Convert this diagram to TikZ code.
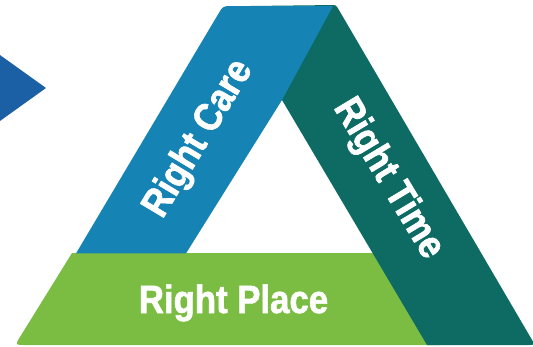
\documentclass[tikz,border=0pt]{standalone}
\usepackage{fontspec}
\newfontfamily\lblfont{Liberation Sans}[FakeStretch=0.88,FakeBold=1.6]
\usetikzlibrary{calc}
\definecolor{arrowblue}{RGB}{27,95,165}
\definecolor{careblue}{RGB}{21,132,181}
\definecolor{timeteal}{RGB}{13,107,99}
\definecolor{placegreen}{RGB}{123,189,67}
\begin{document}
\begin{tikzpicture}[x=1pt,y=-1pt,
  lbl/.style={text=white, font=\lblfont\bfseries\fontsize{39.5}{40}\selectfont, inner sep=0pt}]
\useasboundingbox (0,0) rectangle (533,346);
\clip (0,0) rectangle (533,346);
% arrow
\coordinate (a1) at (-20,40.7);
\coordinate (a2) at (46,88);
\coordinate (a3) at (-20,135.3);
\fill[arrowblue] (a1) -- (a2) -- (a3) -- cycle;
% green band
\coordinate (g1) at (72,253);
\coordinate (g2) at (15,345);
\coordinate (g3) at (440,345);
\coordinate (g4) at (400,253);
\fill[placegreen] (g1) -- ($(g2)!10pt!(g1)$) .. controls (g2) .. ($(g2)!10pt!(g3)$) -- (g3) -- (g4) -- cycle;
% teal band
\coordinate (t1) at (250,6);
\coordinate (t2) at (336,5);
\coordinate (t3) at (535,345);
\coordinate (t4) at (427,345);
\coordinate (t5) at (282,100);
\fill[timeteal] (t1) -- ($(t2)!5pt!(t1)$) .. controls (t2) .. ($(t2)!5pt!(t3)$) -- ($(t3)!7pt!(t2)$) .. controls (t3) .. ($(t3)!7pt!(t4)$) -- (t4) -- (t5) -- cycle;
% blue band
\coordinate (b1) at (76,253.4);
\coordinate (b2) at (223,6);
\coordinate (b3) at (333,6);
\coordinate (b4) at (282,100);
\coordinate (b5) at (186,253.4);
\fill[careblue] (b1) -- ($(b2)!9pt!(b1)$) .. controls (b2) .. ($(b2)!9pt!(b3)$) -- (b3) -- (b4) -- (b5) -- cycle;
% labels
\node[lbl, rotate=59] (care) at (199,139) {Right Care};
\node[lbl, rotate=-59] (time) at (388,179) {Right Time};
\node[lbl, anchor=base] (place) at (233.5,313) {Right Place};
\end{tikzpicture}
\end{document}
